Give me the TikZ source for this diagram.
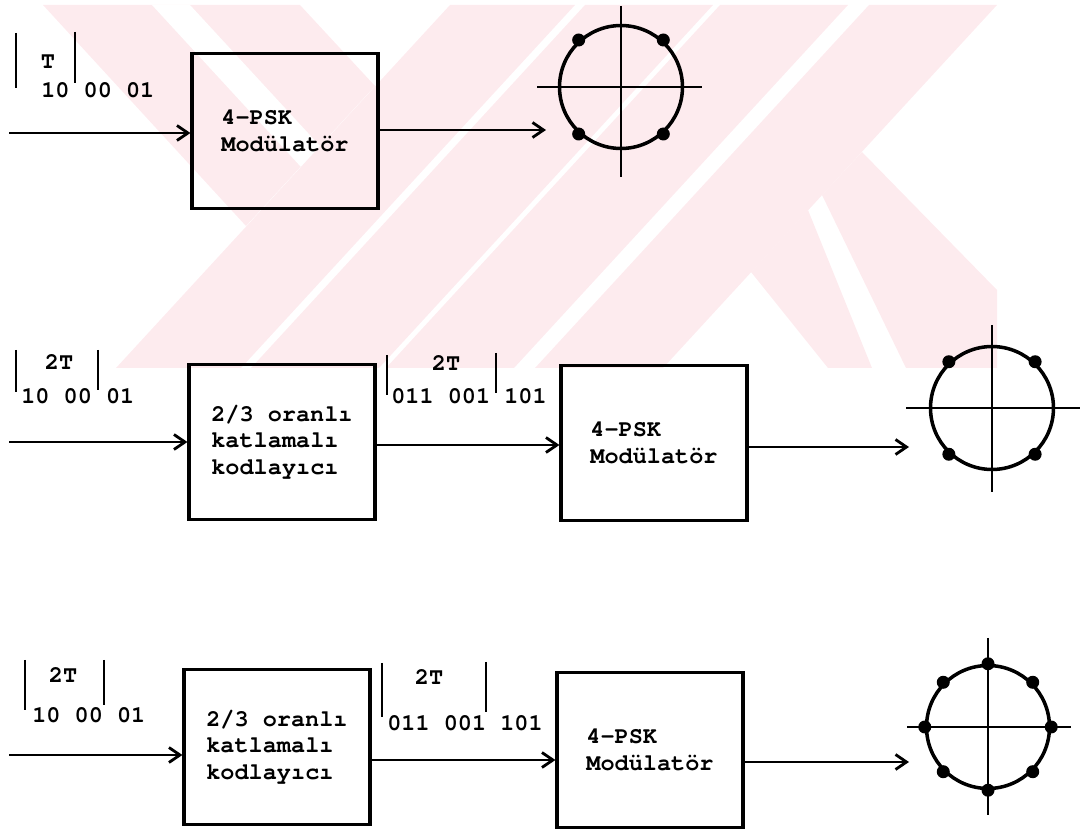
\documentclass[tikz,border=0pt]{standalone}
\usepackage[T1,TU]{fontenc}
\usetikzlibrary{arrows.meta}

\definecolor{filigran}{RGB}{253,235,238}
\newcommand\daktilo{\fontencoding{T1}\fontfamily{pcr}\fontseries{b}\fontsize{13.4}{15.2}\selectfont}

\tikzset{
  blok/.style={draw, line width=1.8pt, minimum width=3.72cm, minimum height=3.1cm, align=left, font=\daktilo},
  etiket/.style={inner sep=0pt, font=\daktilo},
  ok/.style={line width=1.6pt, -{Straight Barb[length=2.2mm,width=3mm]}},
  cubuk/.style={line width=1.6pt},
  yildiz/.style={circle, draw, line width=2pt, minimum size=2.46cm, inner sep=0pt},
  eksen/.style={line width=1.7pt}
}

\begin{document}
\begin{tikzpicture}[x=0.02cm, y=-0.02cm]
            \useasboundingbox (0,0) rectangle (1080,831);
            % filigran
            \fill[filigran] (43,5) -- (300,5) -- (375,86) -- (246,226) -- cycle;
            \fill[white] (152,5) -- (190,5) -- (320,146) -- (301,167) -- cycle;
            \foreach \a/\b in {450/575, 585/713, 720/848, 869/997}
              \fill[filigran] (\a,5) -- (\b,5) -- ++(-334,363) -- ({\a-334},368) -- cycle;
            \fill[filigran] (862,152) -- (997,290) -- (997,368) -- (906,368) -- (822,195) -- cycle;
            \fill[filigran] (808,210) -- (872,368) -- (828,368) -- (751,272) -- cycle;

            % 1. satir
            \node[blok] (mod1) at (285,131) {4-PSK\\Mod\"ulat\"or};
            \coordinate (g1) at (9,133);
            \coordinate (u1) at (546,130);
            \draw[ok] (g1) -- (g1 -| mod1.west);
            \draw[ok] (u1 -| mod1.east) -- (u1);
            \node[etiket, anchor=west] (s1) at (41,90) {10 00 01};
            \node[etiket] (t1) at (48,62) {T};
            \draw[cubuk] (16,33) -- (16,88);
            \draw[cubuk] (75,32) -- (75,83);
            \node[yildiz] (k1) at (621,87) {};
            \draw[eksen] (k1.center) ++(-84,0) -- ++(165,0);
            \draw[eksen] (k1.center) ++(0,-81) -- ++(0,171);
            \foreach \w in {48,132,228,312}
              \fill (k1.\w) circle (0.13cm);

            % 2. satir
            \node[blok] (kod2) at (282,442) {2/3 oranl\i\\katlamal\i\\kodlay\i c\i};
            \node[blok] (mod2) at (654,443) {4-PSK\\Mod\"ulat\"or};
            \coordinate (g2) at (9,442);
            \coordinate (m2) at (0,445);
            \coordinate (u2) at (909,447);
            \draw[ok] (g2) -- (g2 -| kod2.west);
            \draw[ok] (m2 -| kod2.east) -- (m2 -| mod2.west);
            \draw[ok] (u2 -| mod2.east) -- (u2);
            \node[etiket, anchor=west] (s2) at (21,396) {10 00 01};
            \node[etiket] (t2) at (59,362) {2T};
            \draw[cubuk] (16,350) -- (16,392);
            \draw[cubuk] (98,350) -- (98,390);
            \node[etiket, anchor=west] (s2b) at (391,396) {011 001 101};
            \node[etiket] (t2b) at (446,363) {2T};
            \draw[cubuk] (387,355) -- (387,395);
            \draw[cubuk] (496,353) -- (496,393);
            \node[yildiz] (k2) at (992,408) {};
            \draw[eksen] (k2.center) ++(-86,0) -- ++(174,0);
            \draw[eksen] (k2.center) ++(0,-83) -- ++(0,167);
            \foreach \w in {47,133,227,313}
              \fill (k2.\w) circle (0.13cm);

            % 3. satir
            \node[blok] (kod3) at (277,747) {2/3 oranl\i\\katlamal\i\\kodlay\i c\i};
            \node[blok] (mod3) at (650,750) {4-PSK\\Mod\"ulat\"or};
            \coordinate (g3) at (9,755);
            \coordinate (m3) at (0,760);
            \coordinate (u3) at (909,762);
            \draw[ok] (g3) -- (g3 -| kod3.west);
            \draw[ok] (m3 -| kod3.east) -- (m3 -| mod3.west);
            \draw[ok] (u3 -| mod3.east) -- (u3);
            \node[etiket, anchor=west] (s3) at (32,715) {10 00 01};
            \node[etiket] (t3) at (63,675) {2T};
            \draw[cubuk] (25,660) -- (25,710);
            \draw[cubuk] (104,660) -- (104,705);
            \node[etiket, anchor=west] (s3b) at (387,723) {011 001 101};
            \node[etiket] (t3b) at (429,677) {2T};
            \draw[cubuk] (382,663) -- (382,717);
            \draw[cubuk] (486,662) -- (486,712);
            \node[yildiz] (k3) at (988,727) {};
            \draw[eksen] (k3.center) ++(-81,0) -- ++(164,0);
            \draw[eksen] (k3.center) ++(0,-89) -- ++(0,177);
            \foreach \w in {0,45,...,315}
              \fill (k3.\w) circle (0.13cm);
        \end{tikzpicture}
\end{document}
